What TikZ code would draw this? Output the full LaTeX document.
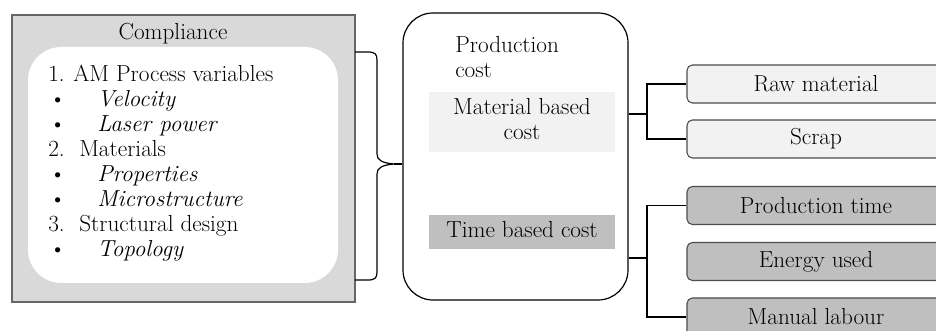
\documentclass[tikz,border=0pt]{standalone}
\usepackage{fontspec}
\begin{document}
\begin{tikzpicture}[x=0.75pt,y=-0.75pt,
  txt/.style={font=\fontsize{17.4}{19}\selectfont, inner sep=0pt},
  rbox/.style={draw=black!70, line width=0.8pt, rounded corners=4pt, minimum width=193.5pt, minimum height=28.5pt, txt},
  lightbox/.style={rbox, fill=black!5},
  darkbox/.style={rbox, fill=black!25},
  conn/.style={draw=black, line width=0.8pt}]
\useasboundingbox (0,0) rectangle (936,331);
\begin{scope}
\clip (0,0) rectangle (936,331);
% left compliance box
\node[draw=black!60, fill=black!15, line width=0.8pt, minimum width=257.25pt, minimum height=215.25pt, inner sep=0pt] (comp) at (183.5,158.5) {};
\node[fill=white, rounded corners=25pt, minimum width=232.5pt, minimum height=177pt, inner sep=0pt] (inner) at (183,165) {};
\node[txt, anchor=base] (ctitle) at (173,40) {Compliance};
\node[txt, anchor=base west] (l1n) at (48,82) {1.};
\node[txt, anchor=base west] (l1) at (73,82) {AM Process variables};
\node[txt, anchor=base west] (b1) at (49,107) {\textbullet};
\node[txt, anchor=base west] (l2) at (97,107) {\textit{Velocity}};
\node[txt, anchor=base west] (b2) at (49,132) {\textbullet};
\node[txt, anchor=base west] (l3) at (97,132) {\textit{Laser power}};
\node[txt, anchor=base west] (l4n) at (48,157) {2.};
\node[txt, anchor=base west] (l4) at (79,157) {Materials};
\node[txt, anchor=base west] (b3) at (49,182) {\textbullet};
\node[txt, anchor=base west] (l5) at (97,182) {\textit{Properties}};
\node[txt, anchor=base west] (b4) at (49,207) {\textbullet};
\node[txt, anchor=base west] (l6) at (97,207) {\textit{Microstructure}};
\node[txt, anchor=base west] (l7n) at (48,232) {3.};
\node[txt, anchor=base west] (l7) at (79,232) {Structural design};
\node[txt, anchor=base west] (b5) at (49,257) {\textbullet};
\node[txt, anchor=base west] (l8) at (97,257) {\textit{Topology}};
% brace
\coordinate (btip) at (394,164);
\draw[line width=0.9pt] (355,52) -- (368,52) .. controls (375,52) and (377,54) .. (377,60)
  -- (377,154) .. controls (377,160) and (382,163) .. (btip)
  .. controls (382,165) and (377,168) .. (377,174)
  -- (377,272) .. controls (377,278) and (375,280) .. (368,280) -- (355,280);
% middle box
\node[draw=black, line width=0.9pt, rounded corners=22.5pt, minimum width=168.75pt, minimum height=215.25pt, inner sep=0pt] (mid) at (515.5,156.5) {};
\draw[conn] (btip) -- (btip -| mid.west);
\node[txt, anchor=base west] (pc1) at (455,53) {Production};
\node[txt, anchor=base west] (pc2) at (455,78) {cost};
\node[fill=black!5, minimum width=139.5pt, minimum height=45pt, inner sep=0pt] (mbbox) at (522,122) {};
\node[txt, anchor=base] (mb1) at (522,115) {Material based};
\node[txt, anchor=base] (mb2) at (522,140) {cost};
\node[fill=black!25, minimum width=139.5pt, minimum height=25.5pt, inner sep=0pt] (tbbox) at (522,232) {};
\node[txt, anchor=base] (tb) at (522,238) {Time based cost};
% right boxes
\node[lightbox] (raw) at (816,84) {Raw material};
\node[lightbox] (scrap) at (816,139) {Scrap};
\node[darkbox] (pt) at (816,205.5) {Production time};
\node[darkbox] (eu) at (816,261.5) {Energy used};
\node[darkbox] (ml) at (816,317) {Manual labour};
% connectors
\coordinate (j1) at (647,114);
\coordinate (j2) at (647,258);
\draw[conn] (mid.east |- j1) -- (j1);
\draw[conn] (raw.west) -| (j1) |- (scrap.west);
\draw[conn] (mid.east |- j2) -- (j2);
\draw[conn] (pt.west) -| (j2) |- (ml.west);
\end{scope}
\end{tikzpicture}
\end{document}
